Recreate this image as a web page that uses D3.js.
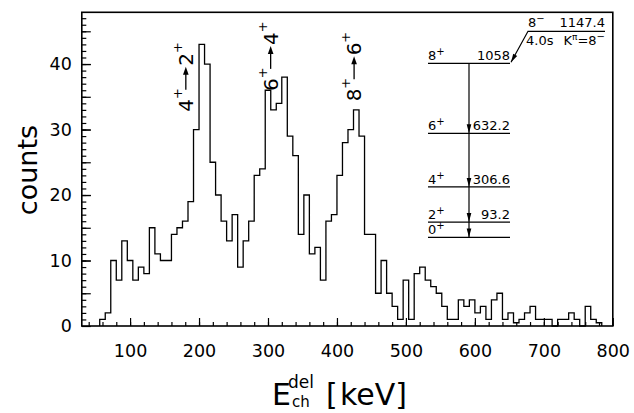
<!DOCTYPE html>
<html>
<head>
<meta charset="utf-8">
<script src="https://cdn.jsdelivr.net/npm/d3@7"></script>
<style>
  body { margin: 0; background: #fff; }
  svg { display: block; font-family: "DejaVu Sans", sans-serif; }
</style>
</head>
<body>
<svg id="chart" width="634" height="413"></svg>
<script>
// lower edge of each 8 keV channel (keV)
var binLo = [56, 64, 72, 80, 88, 96, 104, 112, 120, 128,
             136, 144, 152, 160, 168, 176, 184, 192, 200, 208,
             216, 224, 232, 240, 248, 256, 264, 272, 280, 288,
             296, 304, 312, 320, 328, 336, 344, 352, 360, 368,
             376, 384, 392, 400, 408, 416, 424, 432, 440, 448,
             456, 464, 472, 480, 488, 496, 504, 512, 520, 528,
             536, 544, 552, 560, 568, 576, 584, 592, 600, 608,
             616, 624, 632, 640, 648, 656, 664, 672, 680, 688,
             696, 704, 712, 720, 728, 736, 744, 752, 760, 768,
             776];
var binWidth = 8;
// counts per channel
var counts = [1, 2, 10, 7, 13, 10, 7, 9, 8, 15,
              11, 10, 10, 14, 15, 16, 19, 30, 43, 40,
              25, 20, 16, 13, 17, 9, 13, 16, 23, 24,
              36, 33, 34, 38, 29, 26, 14, 20, 11, 12,
              7, 16, 17, 23, 28, 30, 33, 29, 14, 14,
              5, 10, 5, 3, 1, 7, 1, 8, 9, 7,
              6, 5, 3, 1, 1, 4, 3, 4, 2, 3,
              1, 4, 5, 1, 2, 0.5, 1, 2, 3, 1,
              1, 1, 0, 1, 1, 2, 1, 0, 3, 1,
              0.5];

var xTicks = [100, 200, 300, 400, 500, 600, 700, 800];
var yTicks = [0, 10, 20, 30, 40];

// level scheme
var levelSpin = ["0", "2", "4", "6", "8"];
var levelEnergy = [0, 93.2, 306.6, 632.2, 1058];
var levelText = ["", "93.2", "306.6", "632.2", "1058"];

// gamma transitions marked on the peaks
var transFrom = ["4", "6", "8"];
var transTo = ["2", "4", "6"];

var svg = d3.select("#chart");

var x = d3.scaleLinear().domain([30, 800]).range([81.8, 612.8]);
var y = d3.scaleLinear().domain([0, 47.9]).range([326, 12.3]);

// frame
svg.append("rect")
  .attr("x", x(30)).attr("y", y(47.9))
  .attr("width", x(800) - x(30)).attr("height", y(0) - y(47.9))
  .attr("fill", "none").attr("stroke", "#000").attr("stroke-width", 1.6);

function styleAxis(g) {
  g.select(".domain").remove();
  g.selectAll(".tick line").attr("stroke", "#000").attr("stroke-width", 1.2);
  g.attr("font-family", null).attr("font-size", null);
  g.selectAll("text").attr("fill", "#000").style("font-size", "17.5px");
}

// x axis: minor ticks every 20 keV, labelled every 100 keV
svg.append("g").attr("transform", "translate(0," + y(0) + ")")
  .call(d3.axisBottom(x).tickValues(d3.range(40, 800, 20)).tickSizeInner(-4).tickSizeOuter(0).tickFormat(""))
  .call(styleAxis);
svg.append("g").attr("transform", "translate(0," + y(0) + ")")
  .call(d3.axisBottom(x).tickValues(xTicks).tickSizeInner(-8).tickSizeOuter(0).tickPadding(19))
  .call(styleAxis);

// y axis: ticks every count, longer every 5, labels every 10
svg.append("g").attr("transform", "translate(" + x(30) + ",0)")
  .call(d3.axisLeft(y).tickValues(d3.range(1, 48, 1)).tickSizeInner(-4.5).tickSizeOuter(0).tickFormat(""))
  .call(styleAxis);
svg.append("g").attr("transform", "translate(" + x(30) + ",0)")
  .call(d3.axisLeft(y).tickValues(d3.range(5, 48, 5)).tickSizeInner(-9).tickSizeOuter(0).tickFormat(""))
  .call(styleAxis);
svg.append("g").attr("transform", "translate(" + x(30) + ",0)")
  .call(d3.axisLeft(y).tickValues(yTicks).tickSizeInner(-9).tickSizeOuter(0).tickPadding(10))
  .call(styleAxis);

// histogram outline
var pts = [[binLo[0], 0]];
binLo.forEach(function(b, i) { pts.push([b, counts[i]]); });
pts.push([binLo[binLo.length - 1] + binWidth, 0]);

var line = d3.line()
  .x(function(d) { return x(d[0]); })
  .y(function(d) { return y(d[1]); })
  .curve(d3.curveStepAfter);

svg.append("path")
  .datum(pts)
  .attr("d", line)
  .attr("fill", "none")
  .attr("stroke", "#000")
  .attr("stroke-width", 1.3);

// axis titles
svg.append("text")
  .attr("transform", "translate(37,170) rotate(-90)")
  .attr("text-anchor", "middle")
  .style("font-size", "27px")
  .text("counts");

var xl = svg.append("text").attr("fill", "#000");
xl.append("tspan").attr("x", 272).attr("y", 405).style("font-size", "30px").text("E");
xl.append("tspan").attr("x", 288).attr("y", 388).style("font-size", "17px").text("del");
xl.append("tspan").attr("x", 292).attr("y", 407).style("font-size", "15px").text("ch");
xl.append("tspan").attr("x", 326).attr("y", 405).style("font-size", "30px").text("[");
xl.append("tspan").attr("x", 340).attr("y", 405).style("font-size", "30px").text("keV]");

// rotated transition labels above the peaks (anchored in data units)
var transKeV = [191, 314, 435];
var transCount = [32.7, 35.9, 34.3];

transFrom.forEach(function(f, i) {
  var g = svg.append("g")
    .attr("transform", "translate(" + x(transKeV[i]) + "," + y(transCount[i]) + ") rotate(-90)");
  var t1 = g.append("text").attr("x", 0).attr("y", 0).style("font-size", "20px");
  t1.append("tspan").text(f);
  t1.append("tspan").attr("dy", -11).style("font-size", "13px").text("+");
  g.append("line")
    .attr("x1", 22).attr("x2", 38).attr("y1", -7).attr("y2", -7)
    .attr("stroke", "#000").attr("stroke-width", 1.3);
  g.append("path").attr("d", "M45,-7 L37,-9.8 L37,-4.2 Z").attr("fill", "#000");
  var t2 = g.append("text").attr("x", 46).attr("y", 0).style("font-size", "20px");
  t2.append("tspan").text(transTo[i]);
  t2.append("tspan").attr("dy", -11).style("font-size", "13px").text("+");
});

// level scheme
var lv = d3.scaleLinear().domain([0, 1058]).range([237.4, 63.3]);
var lx0 = 428, lx1 = 510, gx = 469;

levelEnergy.forEach(function(e, i) {
  var ly = lv(e);
  svg.append("line")
    .attr("x1", lx0).attr("x2", lx1).attr("y1", ly).attr("y2", ly)
    .attr("stroke", "#000").attr("stroke-width", 1.2);
  var s = svg.append("text").attr("x", lx0).attr("y", ly - 3).style("font-size", "13px");
  s.append("tspan").text(levelSpin[i]);
  s.append("tspan").attr("dy", -5).style("font-size", "10px").text("+");
  if (levelText[i]) {
    svg.append("text").attr("x", lx1).attr("y", ly - 3)
      .attr("text-anchor", "end").style("font-size", "13px").text(levelText[i]);
  }
});

// cascade line with arrow heads on each lower level
svg.append("line")
  .attr("x1", gx).attr("x2", gx).attr("y1", lv(1058)).attr("y2", lv(0))
  .attr("stroke", "#000").attr("stroke-width", 1.2);
levelEnergy.slice(0, 4).forEach(function(e) {
  var ly = lv(e);
  svg.append("path")
    .attr("d", "M" + (gx - 2.3) + "," + (ly - 9) + " L" + (gx + 2.3) + "," + (ly - 9) + " L" + gx + "," + ly + " Z")
    .attr("fill", "#000");
});

// K-isomer feeding the 8+ level
var y8 = lv(1058);
var iso = { x0: lx1 + 18, y0: y8 - 32, x1: 605 };
svg.append("path")
  .attr("d", "M" + (lx1 + 1) + "," + (y8 - 1) + " L" + iso.x0 + "," + iso.y0 + " L" + iso.x1 + "," + iso.y0)
  .attr("fill", "none").attr("stroke", "#000").attr("stroke-width", 1.2);
svg.append("path")
  .attr("d", "M" + (lx1 + 1) + "," + (y8 - 1) + " L" + (lx1 + 3.2) + "," + (y8 - 9.5) + " L" + (lx1 + 7.2) + "," + (y8 - 7.3) + " Z")
  .attr("fill", "#000");

var k1 = svg.append("text").attr("x", iso.x0).attr("y", iso.y0 - 4).style("font-size", "13px");
k1.append("tspan").text("8");
k1.append("tspan").attr("dy", -5).style("font-size", "10px").text("\u2212");
svg.append("text").attr("x", iso.x1).attr("y", iso.y0 - 4)
  .attr("text-anchor", "end").style("font-size", "13px").text("1147.4");
svg.append("text").attr("x", iso.x0 - 2).attr("y", iso.y0 + 14)
  .style("font-size", "13px").text("4.0s");
var k2 = svg.append("text").attr("x", iso.x1).attr("y", iso.y0 + 14)
  .attr("text-anchor", "end").style("font-size", "13px");
k2.append("tspan").text("K");
k2.append("tspan").attr("dy", -5).style("font-size", "9px").text("\u03c0");
k2.append("tspan").attr("dy", 5).text("=8");
k2.append("tspan").attr("dy", -5).style("font-size", "10px").text("\u2212");
</script>
</body>
</html>
